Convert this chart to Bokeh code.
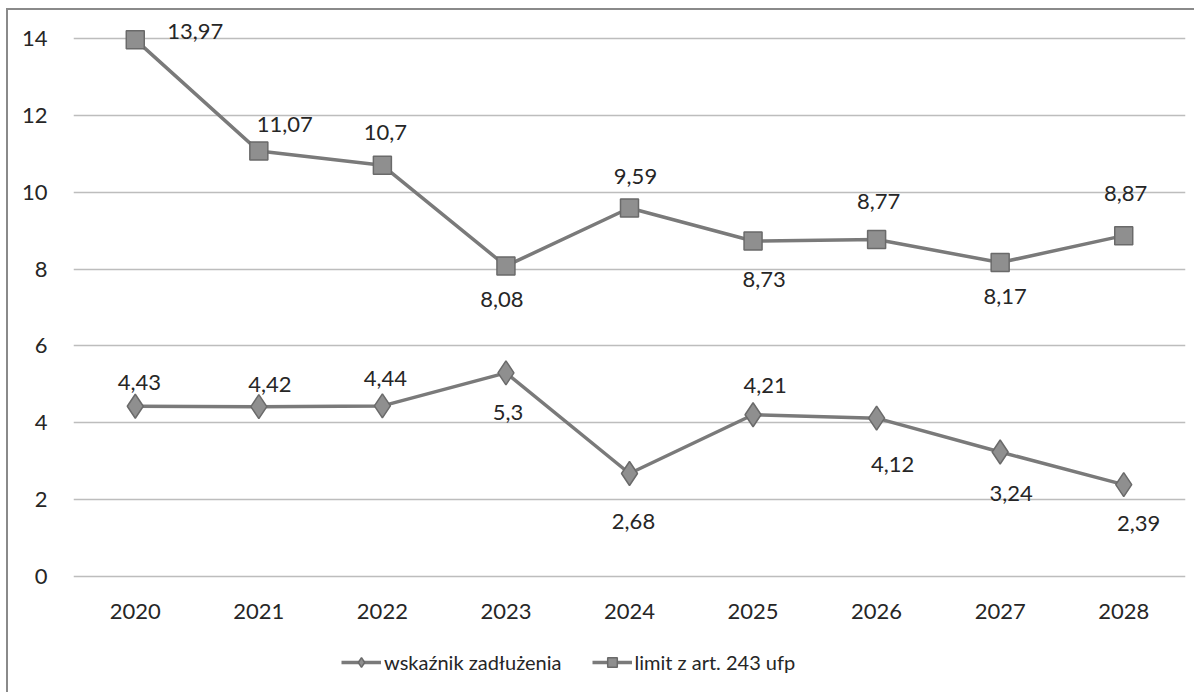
from bokeh.plotting import figure
from bokeh.layouts import column
from bokeh.models import (ColumnDataSource, FactorRange, Range1d, FixedTicker,
                          Legend, LegendItem)
from bokeh.core.properties import value
from bokeh.embed import file_html
from bokeh.resources import INLINE

years = ["2020", "2021", "2022", "2023", "2024", "2025", "2026", "2027", "2028"]
wskaznik = [4.43, 4.42, 4.44, 5.3, 2.68, 4.21, 4.12, 3.24, 2.39]
limit = [13.97, 11.07, 10.7, 8.08, 9.59, 8.73, 8.77, 8.17, 8.87]
y_ticks = [0, 2, 4, 6, 8, 10, 12, 14]
name_wsk = "wskaźnik zadłużenia"
name_lim = "limit z art. 243 ufp"

# label placement (style only): screen offsets in px
lim_dx = [60, 26, 3, -4, 6, 11, 2, 5, 2]
lim_dy = [-8, -27, -33, 34, -31, 38, -38, 34, -42]
wsk_dx = [4, 11, 3, 2, 4, 12, 16, 11, 15]
wsk_dy = [-24, -22, -27, 40, 48, -29, 46, 42, 39]

def fmt(v):
    s = ("%.2f" % v).rstrip("0").rstrip(".")
    return s.replace(".", ",")

FONT = "Lato"
TXT = "#262626"
LINE = "#7a7a7a"
MFILL = "#8f8f8f"
MEDGE = "#6a6a6a"

p = figure(width=1186, height=632, output_backend="svg", toolbar_location=None,
           x_range=FactorRange(*years, range_padding=0),
           y_range=Range1d(-0.364, 14.468),
           min_border_left=65, min_border_right=9, min_border_top=10,
           min_border_bottom=52)
p.outline_line_color = None
p.xgrid.grid_line_color = None
p.ygrid.grid_line_color = "#bdbdbd"
p.ygrid.grid_line_width = 1.6
p.yaxis.ticker = FixedTicker(ticks=y_ticks)

for ax in (p.xaxis[0], p.yaxis[0]):
    ax.axis_line_color = None
    ax.major_tick_line_color = None
    ax.minor_tick_line_color = None
    ax.major_label_text_font = FONT
    ax.major_label_text_font_size = "22px"
    ax.major_label_text_color = TXT
p.yaxis.major_label_standoff = 20
p.xaxis.major_label_standoff = 7

src_w = ColumnDataSource(dict(x=years, y=wskaznik, t=[fmt(v) for v in wskaznik],
                              dx=wsk_dx, dy=wsk_dy))
src_l = ColumnDataSource(dict(x=years, y=limit, t=[fmt(v) for v in limit],
                              dx=lim_dx, dy=lim_dy))

line_kw = dict(line_color=LINE, line_width=3.5)
wsk_kw = dict(marker="diamond", size=24, fill_color=MFILL, line_color=MEDGE, line_width=1.5)
lim_kw = dict(marker="square", size=18, fill_color=MFILL, line_color=MEDGE, line_width=1.5)

p.line("x", "y", source=src_w, **line_kw)
p.scatter("x", "y", source=src_w, **wsk_kw)
p.line("x", "y", source=src_l, **line_kw)
p.scatter("x", "y", source=src_l, **lim_kw)

for src in (src_w, src_l):
    p.text("x", "y", text="t", source=src, x_offset="dx", y_offset="dy",
           text_align="center", text_baseline="middle",
           text_font=value(FONT), text_font_size="22px", text_color=TXT)

# legend strip below the chart: same series, drawn outside the strip's view
lg = figure(width=1186, height=50, output_backend="svg", toolbar_location=None,
            x_range=FactorRange(*years, range_padding=0), y_range=Range1d(-100, -99),
            x_axis_type=None, y_axis_type=None,
            min_border_left=0, min_border_right=0, min_border_top=0,
            min_border_bottom=8)
lg.outline_line_color = None
lg.grid.visible = False
lw = lg.line("x", "y", source=src_w, **line_kw)
mw = lg.scatter("x", "y", source=src_w, marker="diamond", size=18, fill_color=MFILL,
                line_color=MEDGE, line_width=1.5)
ll = lg.line("x", "y", source=src_l, **line_kw)
ml = lg.scatter("x", "y", source=src_l, marker="square", size=14, fill_color=MFILL,
                line_color=MEDGE, line_width=1.5)
legend = Legend(items=[LegendItem(label=name_wsk, renderers=[lw, mw]),
                       LegendItem(label=name_lim, renderers=[ll, ml])],
                orientation="horizontal", location=(268, 10))
legend.label_text_font = FONT
legend.label_text_font_size = "20px"
legend.label_text_color = TXT
legend.glyph_width = 40
legend.glyph_height = 24
legend.spacing = 30
legend.label_standoff = 3
legend.border_line_color = None
legend.background_fill_alpha = 0
legend.margin = 0
legend.padding = 4
lg.add_layout(legend, "center")

layout = column(p, lg, spacing=0)
layout.styles = {"border-top": "2px solid #8a8a8a", "border-left": "2px solid #8a8a8a",
                 "margin-left": "6px", "margin-top": "8px"}

open("out.html", "w").write(file_html(layout, INLINE))
